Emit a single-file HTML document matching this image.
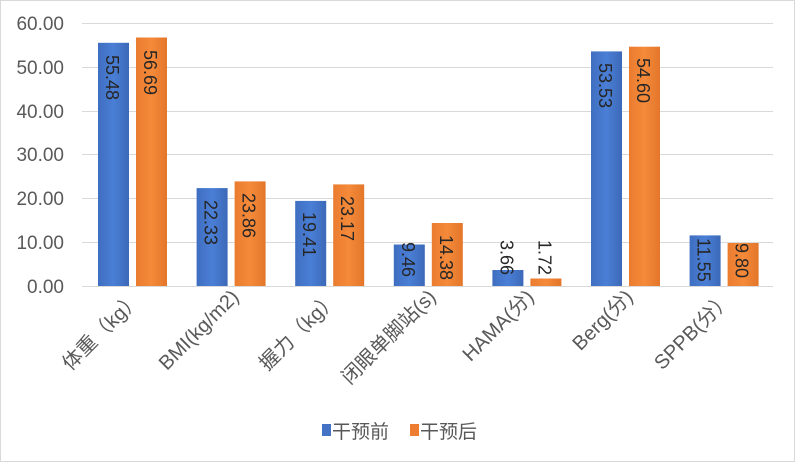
<!DOCTYPE html>
<html><head><meta charset="utf-8"><style>
html,body{margin:0;padding:0;background:#fff}
svg{display:block}
text{font-family:"Liberation Sans","Noto Sans CJK SC",sans-serif}
</style></head><body>
<svg width="795" height="462" viewBox="0 0 795 462">
<defs>
<linearGradient id="b" x1="0" y1="0" x2="1" y2="0"><stop offset="0" stop-color="#3f6ec0"/><stop offset="0.5" stop-color="#4a7fd6"/><stop offset="1" stop-color="#3c69b8"/></linearGradient>
<linearGradient id="o" x1="0" y1="0" x2="1" y2="0"><stop offset="0" stop-color="#ea7c2f"/><stop offset="0.5" stop-color="#f58a3a"/><stop offset="1" stop-color="#e3762a"/></linearGradient>
</defs>
<rect x="0.5" y="0.5" width="794" height="461" fill="#fff" stroke="#d9d9d9"/>
<g stroke="#d9d9d9" stroke-width="1">
<line x1="82" x2="773" y1="23.5" y2="23.5"/><line x1="82" x2="773" y1="67.5" y2="67.5"/><line x1="82" x2="773" y1="111.5" y2="111.5"/><line x1="82" x2="773" y1="154.5" y2="154.5"/><line x1="82" x2="773" y1="198.5" y2="198.5"/><line x1="82" x2="773" y1="242.5" y2="242.5"/><line x1="82" x2="773" y1="286.5" y2="286.5"/>
</g>
<g font-size="19" fill="#595959" text-anchor="end">
<text x="64" y="30">60.00</text><text x="64" y="74">50.00</text><text x="64" y="118">40.00</text><text x="64" y="161">30.00</text><text x="64" y="205">20.00</text><text x="64" y="249">10.00</text><text x="64" y="293">0.00</text>
</g>
<g>
<rect x="98" y="42.8" width="31" height="243.2" fill="url(#b)"/>
<rect x="136" y="37.5" width="31" height="248.5" fill="url(#o)"/>
<rect x="196.6" y="188.1" width="31" height="97.9" fill="url(#b)"/>
<rect x="234.6" y="181.4" width="31" height="104.6" fill="url(#o)"/>
<rect x="295.2" y="200.9" width="31" height="85.1" fill="url(#b)"/>
<rect x="333.2" y="184.4" width="31" height="101.6" fill="url(#o)"/>
<rect x="393.8" y="244.5" width="31" height="41.5" fill="url(#b)"/>
<rect x="431.8" y="223" width="31" height="63" fill="url(#o)"/>
<rect x="492.4" y="270" width="31" height="16" fill="url(#b)"/>
<rect x="530.4" y="278.5" width="31" height="7.5" fill="url(#o)"/>
<rect x="591" y="51.4" width="31" height="234.6" fill="url(#b)"/>
<rect x="629" y="46.7" width="31" height="239.3" fill="url(#o)"/>
<rect x="689.6" y="235.4" width="31" height="50.6" fill="url(#b)"/>
<rect x="727.6" y="243" width="31" height="43" fill="url(#o)"/>
</g>
<g font-size="18" fill="#262626">
<text transform="translate(106,55) rotate(90)">55.48</text>
<text transform="translate(144,50) rotate(90)">56.69</text>
<text transform="translate(204.6,200) rotate(90)">22.33</text>
<text transform="translate(242.6,193) rotate(90)">23.86</text>
<text transform="translate(303.2,212) rotate(90)">19.41</text>
<text transform="translate(341.2,196) rotate(90)">23.17</text>
<text transform="translate(401.8,242) rotate(90)">9.46</text>
<text transform="translate(439.8,235) rotate(90)">14.38</text>
<text transform="translate(500.4,240) rotate(90)">3.66</text>
<text transform="translate(538.4,240) rotate(90)">1.72</text>
<text transform="translate(599,63) rotate(90)">53.53</text>
<text transform="translate(637,58) rotate(90)">54.60</text>
<text transform="translate(697.6,238) rotate(90)">11.55</text>
<text transform="translate(735.6,243) rotate(90)">9.80</text>
</g>
<g font-size="20" fill="#595959" text-anchor="end">
<text transform="translate(142,300) rotate(-45)">体重（kg）</text>
<text transform="translate(240,298) rotate(-45)">BMI(kg/m2)</text>
<text transform="translate(339,300) rotate(-45)">握力（kg）</text>
<text transform="translate(437,298) rotate(-45)">闭眼单脚站(s)</text>
<text transform="translate(535,298) rotate(-45)">HAMA(分)</text>
<text transform="translate(634,298) rotate(-45)">Berg(分)</text>
<text transform="translate(733,300) rotate(-45)">SPPB(分）</text>
</g>
<rect x="322" y="424" width="9" height="12" fill="#4472c4"/>
<text x="332" y="438" font-size="19" fill="#595959">干预前</text>
<rect x="410" y="424" width="9" height="12" fill="#ed7d31"/>
<text x="420" y="438" font-size="19" fill="#595959">干预后</text>
</svg>
</body></html>
